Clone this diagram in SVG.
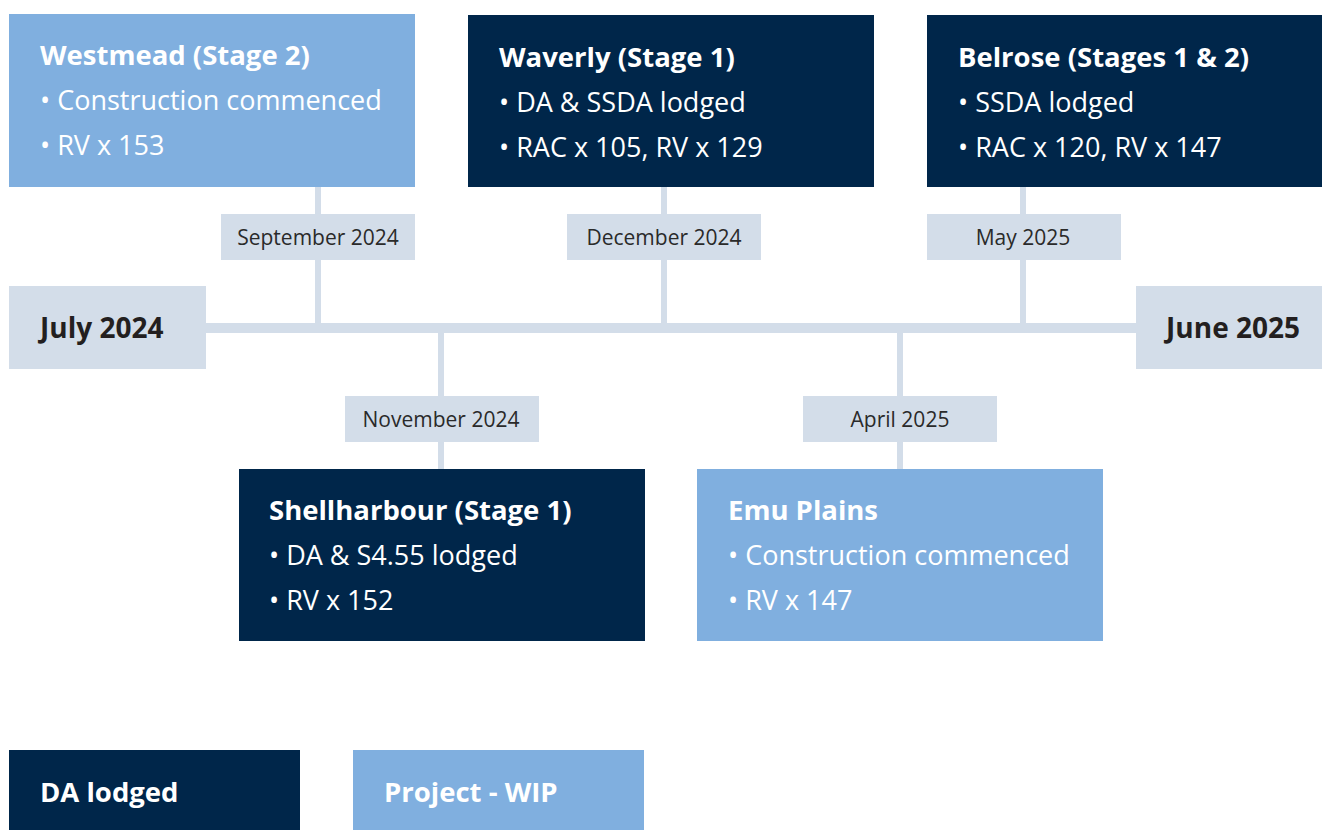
<svg xmlns="http://www.w3.org/2000/svg" width="1322" height="830" viewBox="0 0 1322 830">
  <style>
    .dark { fill: #00264a; }
    .light { fill: #80afdf; }
    .pale { fill: #d3dde9; }
    .title { font-family: "Open Sans", Lato, sans-serif; font-weight: 700; font-size: 27.5px; fill: #ffffff; }
    .item { font-family: "Open Sans", Lato, sans-serif; font-weight: 400; font-size: 27px; fill: #ffffff; }
    .date { font-family: "Open Sans", Lato, sans-serif; font-size: 21px; fill: #2a2a2a; text-anchor: middle; }
    .end { font-family: "Open Sans", Lato, sans-serif; font-weight: 700; font-size: 28px; fill: #231f20; }
  </style>
  <rect width="1322" height="830" fill="#ffffff"/>

  <!-- timeline axis and stems -->
  <g id="connectors" class="pale">
    <rect x="206" y="323" width="930" height="10"/>
    <rect x="315" y="187" width="6" height="136"/>
    <rect x="661" y="187" width="6" height="136"/>
    <rect x="1020" y="187" width="6" height="136"/>
    <rect x="438" y="333" width="6" height="136"/>
    <rect x="897" y="333" width="6" height="136"/>
  </g>

  <!-- period ends -->
  <g id="start">
    <rect class="pale" x="9" y="286" width="197" height="83"/>
    <text class="end" x="40" y="338">July 2024</text>
  </g>
  <g id="end">
    <rect class="pale" x="1136" y="286" width="186" height="83"/>
    <text class="end" x="1300" y="338" text-anchor="end">June 2025</text>
  </g>

  <!-- date tags -->
  <g id="tag-sep">
    <rect class="pale" x="221" y="214" width="194" height="46"/>
    <text class="date" x="318" y="245">September 2024</text>
  </g>
  <g id="tag-dec">
    <rect class="pale" x="567" y="214" width="194" height="46"/>
    <text class="date" x="664" y="245">December 2024</text>
  </g>
  <g id="tag-may">
    <rect class="pale" x="927" y="214" width="194" height="46"/>
    <text class="date" x="1023" y="245">May 2025</text>
  </g>
  <g id="tag-nov">
    <rect class="pale" x="345" y="396" width="194" height="46"/>
    <text class="date" x="441" y="427">November 2024</text>
  </g>
  <g id="tag-apr">
    <rect class="pale" x="803" y="396" width="194" height="46"/>
    <text class="date" x="900" y="427">April 2025</text>
  </g>

  <!-- project cards -->
  <g id="westmead">
    <rect class="light" x="9" y="14" width="406" height="173"/>
    <text class="title" x="40" y="65">Westmead (Stage 2)</text>
    <text class="item" x="40" y="110">• Construction commenced</text>
    <text class="item" x="40" y="155">• RV x 153</text>
  </g>
  <g id="waverly">
    <rect class="dark" x="468" y="15" width="406" height="172"/>
    <text class="title" x="499" y="67">Waverly (Stage 1)</text>
    <text class="item" x="499" y="112">• DA &amp; SSDA lodged</text>
    <text class="item" x="499" y="157">• RAC x 105, RV x 129</text>
  </g>
  <g id="belrose">
    <rect class="dark" x="927" y="15" width="395" height="172"/>
    <text class="title" x="958" y="67">Belrose (Stages 1 &amp; 2)</text>
    <text class="item" x="958" y="112">• SSDA lodged</text>
    <text class="item" x="958" y="157">• RAC x 120, RV x 147</text>
  </g>
  <g id="shellharbour">
    <rect class="dark" x="239" y="469" width="406" height="172"/>
    <text class="title" x="269" y="520">Shellharbour (Stage 1)</text>
    <text class="item" x="269" y="565">• DA &amp; S4.55 lodged</text>
    <text class="item" x="269" y="610">• RV x 152</text>
  </g>
  <g id="emu-plains">
    <rect class="light" x="697" y="469" width="406" height="172"/>
    <text class="title" x="728" y="520">Emu Plains</text>
    <text class="item" x="728" y="565">• Construction commenced</text>
    <text class="item" x="728" y="610">• RV x 147</text>
  </g>

  <!-- legend -->
  <g id="legend-da">
    <rect class="dark" x="9" y="750" width="291" height="80"/>
    <text class="title" x="40" y="802">DA lodged</text>
  </g>
  <g id="legend-wip">
    <rect class="light" x="353" y="750" width="291" height="80"/>
    <text class="title" x="384" y="802">Project - WIP</text>
  </g>
</svg>
